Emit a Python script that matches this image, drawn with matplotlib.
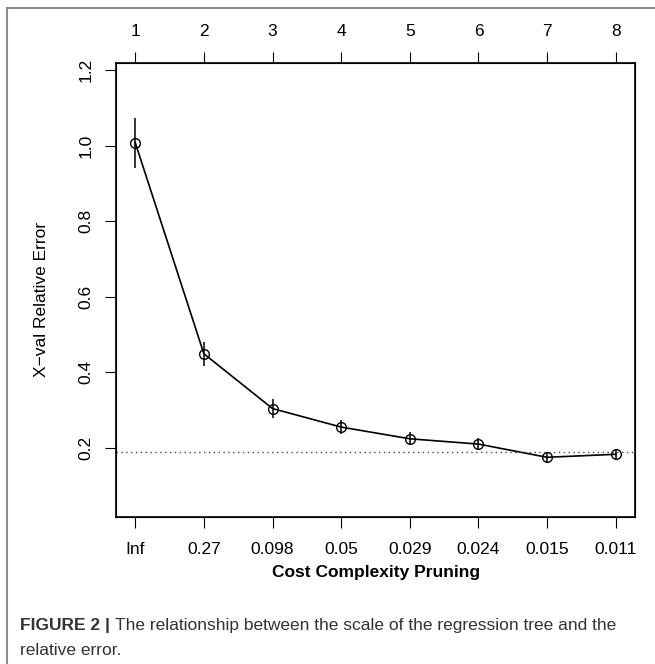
import matplotlib
matplotlib.use("Agg")
import matplotlib.pyplot as plt
from matplotlib.patches import Rectangle

plt.rcParams['font.family'] = ['Liberation Sans', 'DejaVu Sans']

# cross-validated error per tree size
tree_size = [1, 2, 3, 4, 5, 6, 7, 8]
cp_labels = ['Inf', '0.27', '0.098', '0.05', '0.029', '0.024', '0.015', '0.011']
xerror = [1.008, 0.449, 0.304, 0.255, 0.224, 0.210, 0.175, 0.183]
xstd = [0.066, 0.032, 0.025, 0.019, 0.017, 0.015, 0.013, 0.012]
threshold = 0.189
yticks = [0.2, 0.4, 0.6, 0.8, 1.0, 1.2]

W, H = 655, 664
fig = plt.figure(figsize=(W / 100, H / 100), dpi=100)

# thin grey frame around the figure panel
fig.patches.append(Rectangle((7 / W, -0.05), 1.0, 1.05 - 8 / H, transform=fig.transFigure,
                             fill=False, edgecolor='#8c8c8c', lw=1.5, clip_on=False))

ax = fig.add_axes([116 / W, 1 - 517 / H, (635 - 116) / W, (517 - 63) / H])

lo = [m - s for m, s in zip(xerror, xstd)]
hi = [m + s for m, s in zip(xerror, xstd)]
ax.vlines(tree_size, lo, hi, color='black', lw=1.1)
ax.plot(tree_size, xerror, '-o', color='black', lw=1.2, ms=7, mfc='none', mec='black', mew=1)
ax.axhline(threshold, color='#444444', lw=1, ls=(0, (1, 2.5)))

ax.set_xlim(0.72, 8.28)
ax.set_ylim(0.017, 1.2186)
ax.set_xticks(tree_size)
ax.set_xticklabels(cp_labels)
ax.set_yticks(yticks)
ax.set_yticklabels([str(v) for v in yticks], rotation=90, va='center')
ax.tick_params(direction='out', length=8, width=0.8, labelsize=12.5, pad=10)
ax.tick_params(axis='y', pad=8)

for s in ax.spines.values():
    s.set_linewidth(1.2)

ax2 = ax.twiny()
ax2.set_xlim(ax.get_xlim())
ax2.set_xticks(tree_size)
ax2.set_xticklabels([str(t) for t in tree_size])
ax2.tick_params(direction='out', length=8, width=0.8, labelsize=12.5, pad=9)

ax.set_ylabel('X\u2212val Relative Error', fontsize=12.5)
ax.yaxis.set_label_coords(-0.13, 0.48)

fig.text(376 / W, 1 - 572 / H, 'Cost Complexity Pruning', fontsize=12.5,
         fontweight='bold', ha='center', va='center')

# caption
cap = fig.text(20 / W, 1 - 630 / H, 'FIGURE 2 | ', fontsize=12.5, fontweight='bold',
               color='#333333', ha='left', va='baseline')
ax.annotate('The relationship between the scale of the regression tree and the',
            xy=(1, 0), xycoords=cap, fontsize=12.5, color='#333333',
            ha='left', va='bottom', annotation_clip=False)
fig.text(20 / W, 1 - 655 / H, 'relative error.', fontsize=12.5, color='#333333',
         ha='left', va='baseline')

fig.savefig('out.png', dpi=100)
